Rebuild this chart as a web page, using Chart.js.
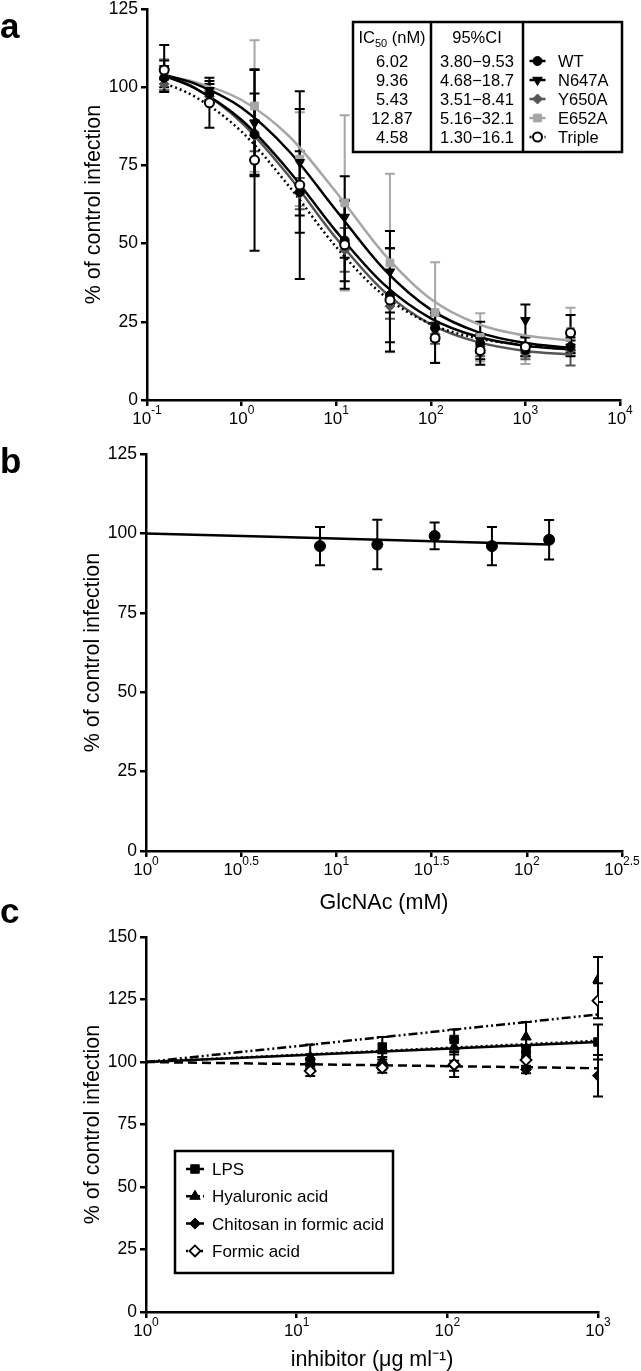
<!DOCTYPE html>
<html>
<head>
<meta charset="utf-8">
<script src="https://cdn.jsdelivr.net/npm/chart.js@4.4.1/dist/chart.umd.min.js"></script>
<style>
html, body { margin: 0; padding: 0; background: #fff; }
#wrap { position: relative; width: 641px; height: 1371px; overflow: hidden; }
canvas { position: absolute; left: 0; }
</style>
</head>
<body>
<div id="wrap">
  <canvas id="chartA" width="641" height="460" style="top:-20px"></canvas>
  <canvas id="chartB" width="641" height="480" style="top:434px"></canvas>
  <canvas id="chartC" width="641" height="476" style="top:895px"></canvas>
</div>
<script>
// ---- panel a: dose response, concentrations in nM
var concA = [0.152, 0.457, 1.37, 4.12, 12.3, 37.0, 111, 333, 1000, 3000];
var wtA = [103, 98, 85, 66.5, 51, 33.5, 23, 18, 16, 17];
var wtErrA = [3, 3, 13, 13, 13, 15, 4, 3, 2, 3];
var n647A = [106, 99, 88.5, 76, 58.5, 41, 24, 19, 25.5, 17];
var n647ErrA = [7.5, 3, 17, 17, 13, 13, 4, 6, 5, 2];
var y650A = [101, 97, 84.5, 66, 48, 30, 21, 17, 15, 16];
var y650ErrA = [2, 2, 5, 5, 7, 4, 3, 3, 2, 5];
var e652A = [104, 98, 94, 77, 63, 43.8, 28, 20, 16, 22];
var e652ErrA = [5, 3, 21, 15, 28, 28.5, 16, 7.7, 4.5, 7.5];
var tripleA = [105.5, 95, 76.7, 68.7, 49.6, 32, 19.8, 15.8, 17, 21.5];
var tripleErrA = [3, 8, 29, 30, 14, 16.5, 8, 4.5, 3, 5.7];

// fitted curves
var curveXA = [0.141, 0.316, 1, 3.16, 10, 31.6, 100, 316, 1000, 3020];
var wtFitA = [104.0, 99.8, 89.5, 73.3, 53.9, 37.1, 26.1, 20.2, 17.3, 16.1];
var n647FitA = [104.2, 101.2, 93.4, 79.6, 60.6, 42.0, 28.9, 21.7, 18.2, 16.7];
var y650FitA = [104.4, 99.9, 88.7, 71.6, 51.7, 34.9, 24.2, 18.5, 15.7, 14.5];
var e652FitA = [103.7, 101.7, 95.9, 84.4, 66.4, 46.9, 32.3, 24.3, 20.6, 19.1];
var tripleFitA = [101.7, 97.1, 85.8, 68.4, 48.9, 33.5, 24.3, 19.7, 17.6, 16.7];

var namesA = ["WT", "N647A", "Y650A", "E652A", "Triple"];
var ic50A = ["6.02", "9.36", "5.43", "12.87", "4.58"];
var ci95A = ["3.80\u22129.53", "4.68\u221218.7", "3.51\u22128.41", "5.16\u221232.1", "1.30\u221216.1"];
var xTicksA = [0.1, 1, 10, 100, 1000, 10000];
var xExpA = ["-1", "0", "1", "2", "3", "4"];

// ---- panel b: GlcNAc (mM)
var concB = [8.2, 16.4, 32.8, 65.6, 131];
var glcB = [96, 96.5, 99.2, 96, 98];
var glcErrB = [6, 7.8, 4.2, 6, 6.2];
var fitXB = [1, 131];
var glcFitB = [100, 96.5];
var xTicksB = [1, 3.1623, 10, 31.623, 100, 316.23];
var xExpB = ["0", "0.5", "1", "1.5", "2", "2.5"];

// ---- panel c: inhibitor (ug/ml)
var concC = [12.3, 37, 111, 333, 1000];
var lpsC = [100, 106, 109, 104, 108];
var lpsErrC = [3, 4, 4, 2, 7];
var hyaC = [102, 100.5, 106, 110, 133];
var hyaErrC = [5, 3, 3, 6, 9];
var chiC = [99.5, 99, 98.5, 97, 94.5];
var chiErrC = [2, 2, 2, 1.5, 8.3];
var forC = [96.4, 97.7, 99, 100.8, 124.5];
var forErrC = [2, 2, 5, 3, 7];
var fitXC = [1, 1000];
var lpsFitC = [100, 108];
var hyaFitC = [100, 119];
var chiFitC = [100, 97.5];
var forFitC = [100, 108.5];
var namesC = ["LPS", "Hyaluronic acid", "Chitosan in formic acid", "Formic acid"];
var xTicksC = [1, 10, 100, 1000];
var xExpC = ["0", "1", "2", "3"];

var FONT = "'Liberation Sans', Arial, Helvetica, sans-serif";
Chart.defaults.font.family = FONT;
Chart.defaults.color = "#000";

function pts(xs, ys) {
  return xs.map(function (x, i) { return { x: x, y: ys[i] }; });
}

function markers(label, xs, ys, errs, st) {
  return {
    label: label, data: pts(xs, ys), errs: errs, errColor: st.err,
    showLine: false, pointStyle: st.shape, rotation: st.rot || 0,
    pointRadius: st.r, backgroundColor: st.fill, borderColor: st.stroke,
    borderWidth: st.bw, legendLine: st.line, legendDash: st.dash || []
  };
}

function curve(xs, ys, st) {
  return {
    data: pts(xs, ys), showLine: true, pointRadius: 0, borderColor: st.line,
    borderWidth: 2.5, borderDash: st.dash || [], cubicInterpolationMode: "monotone", fill: false
  };
}

function drawPower(ctx, cx, baseY, exp) {
  ctx.font = "17px " + FONT;
  var w1 = ctx.measureText("10").width;
  ctx.font = "12px " + FONT;
  var w2 = ctx.measureText(exp).width;
  var x0 = cx - (w1 + w2) / 2;
  ctx.font = "17px " + FONT;
  ctx.fillText("10", x0, baseY);
  ctx.font = "12px " + FONT;
  ctx.fillText(exp, x0 + w1, baseY - 10);
}

function legendSample(ctx, ds, cx, cy, half) {
  ctx.save();
  ctx.strokeStyle = ds.legendLine;
  ctx.lineWidth = 2.5;
  ctx.setLineDash(ds.legendDash);
  ctx.beginPath();
  ctx.moveTo(cx - half, cy);
  ctx.lineTo(cx + half, cy);
  ctx.stroke();
  ctx.setLineDash([]);
  ctx.fillStyle = ds.backgroundColor;
  ctx.strokeStyle = ds.borderColor;
  ctx.lineWidth = ds.borderWidth;
  Chart.helpers.drawPoint(ctx, {
    pointStyle: ds.pointStyle, radius: ds.pointRadius, rotation: ds.rotation,
    borderWidth: ds.borderWidth
  }, cx, cy);
  ctx.restore();
}

function drawTableA(chart, top) {
  var ctx = chart.ctx;
  var Y = function (v) { return v - top; };
  ctx.strokeStyle = "#000";
  ctx.lineWidth = 2.5;
  ctx.strokeRect(353, Y(22), 269, 130);
  ctx.beginPath();
  ctx.moveTo(431, Y(22)); ctx.lineTo(431, Y(152));
  ctx.moveTo(523, Y(22)); ctx.lineTo(523, Y(152));
  ctx.stroke();

  ctx.fillStyle = "#000";
  ctx.textAlign = "left";
  // header IC50 (nM)
  ctx.font = "16.5px " + FONT;
  var wIC = ctx.measureText("IC").width;
  var wNM = ctx.measureText(" (nM)").width;
  ctx.font = "11px " + FONT;
  var w50 = ctx.measureText("50").width;
  var x0 = 392 - (wIC + w50 + wNM) / 2;
  ctx.font = "16.5px " + FONT;
  ctx.fillText("IC", x0, Y(43));
  ctx.fillText(" (nM)", x0 + wIC + w50, Y(43));
  ctx.font = "11px " + FONT;
  ctx.fillText("50", x0 + wIC, Y(47));

  ctx.font = "16.5px " + FONT;
  ctx.textAlign = "center";
  ctx.fillText("95%CI", 477, Y(43));
  var markerSets = chart.data.datasets.filter(function (d) { return d.errs; });
  for (var i = 0; i < namesA.length; i++) {
    var by = 67 + 19 * i;
    ctx.textAlign = "center";
    ctx.fillStyle = "#000";
    ctx.fillText(ic50A[i], 392, Y(by));
    ctx.fillText(ci95A[i], 477, Y(by));
    ctx.textAlign = "left";
    ctx.fillText(namesA[i], 558, Y(by));
    var ds = markerSets.filter(function (d) { return d.label === namesA[i]; })[0];
    legendSample(ctx, ds, 537.5, Y(by - 6), 8);
  }
}

function drawLegendC(chart, top) {
  var ctx = chart.ctx;
  var Y = function (v) { return v - top; };
  ctx.strokeStyle = "#000";
  ctx.lineWidth = 2.5;
  ctx.strokeRect(175, Y(1151), 218, 122);
  ctx.font = "17px " + FONT;
  ctx.textAlign = "left";
  for (var i = 0; i < namesC.length; i++) {
    var by = 1175 + 27.3 * i;
    ctx.fillStyle = "#000";
    ctx.fillText(namesC[i], 212, Y(by));
    var ds = chart.data.datasets.filter(function (d) { return d.label === namesC[i]; })[0];
    legendSample(ctx, ds, 195, Y(by - 6), 9);
  }
}

var figPlugin = {
  id: "fig",
  beforeDatasetsDraw: function (chart) {
    var ctx = chart.ctx, xs = chart.scales.x, ys = chart.scales.y;
    ctx.save();
    chart.data.datasets.slice().reverse().forEach(function (ds) {
      if (!ds.errs) return;
      ctx.strokeStyle = ds.errColor;
      ctx.lineWidth = 2;
      ds.data.forEach(function (p, i) {
        var px = xs.getPixelForValue(p.x);
        var t = ys.getPixelForValue(p.y + ds.errs[i]);
        var b = ys.getPixelForValue(p.y - ds.errs[i]);
        ctx.beginPath();
        ctx.moveTo(px, t); ctx.lineTo(px, b);
        ctx.moveTo(px - 5, t); ctx.lineTo(px + 5, t);
        ctx.moveTo(px - 5, b); ctx.lineTo(px + 5, b);
        ctx.stroke();
      });
    });
    ctx.restore();
  },
  afterDraw: function (chart, args, o) {
    var ctx = chart.ctx, xs = chart.scales.x, area = chart.chartArea;
    ctx.save();
    ctx.fillStyle = "#000";
    ctx.textAlign = "left";
    ctx.textBaseline = "alphabetic";
    o.tickVals.forEach(function (v, i) {
      drawPower(ctx, xs.getPixelForValue(v), area.bottom + 24, o.tickExps[i]);
    });
    ctx.font = "bold 35px " + FONT;
    ctx.fillText(o.letter, 0, o.letterY - o.top);
    if (o.table) drawTableA(chart, o.top);
    if (o.legendBox) drawLegendC(chart, o.top);
    ctx.restore();
  }
};

function xScale(min, max, ticks, title, height) {
  return {
    type: "logarithmic", min: min, max: max,
    afterBuildTicks: function (s) { s.ticks = ticks.map(function (v) { return { value: v }; }); },
    afterFit: function (s) { s.height = height; },
    ticks: { display: false },
    grid: { drawOnChartArea: false, drawTicks: true, tickLength: 6, color: "#000", lineWidth: 2.5 },
    border: { display: true, color: "#000", width: 2.5 },
    title: title ? { display: true, text: title, color: "#000", font: { size: 21.5, lineHeight: 1 }, padding: { top: 0, bottom: 0 } } : { display: false }
  };
}

function yScale(max, width) {
  return {
    type: "linear", min: 0, max: max,
    afterFit: function (s) { s.width = width; },
    ticks: { stepSize: 25, color: "#000", font: { size: 17.5 }, padding: 3 },
    grid: { drawOnChartArea: false, drawTicks: true, tickLength: 6, color: "#000", lineWidth: 2.5 },
    border: { display: true, color: "#000", width: 2.5 },
    title: { display: true, text: "% of control infection", color: "#000", font: { size: 21.5, lineHeight: 1 }, padding: { top: width - 63.5, bottom: 0 } }
  };
}

var stWT = { shape: "circle", r: 4.5, fill: "#000", stroke: "#000", bw: 1, err: "#000", line: "#000" };
var stN = { shape: "triangle", rot: 180, r: 5.5, fill: "#000", stroke: "#000", bw: 1, err: "#000", line: "#000" };
var stY = { shape: "rectRot", r: 5, fill: "#555", stroke: "#555", bw: 1, err: "#555", line: "#555" };
var stE = { shape: "rect", r: 5.5, fill: "#a6a6a6", stroke: "#a6a6a6", bw: 1, err: "#a6a6a6", line: "#a6a6a6" };
var stT = { shape: "circle", r: 4.5, fill: "#fff", stroke: "#000", bw: 2, err: "#000", line: "#000", dash: [2, 3] };

new Chart(document.getElementById("chartA"), {
  type: "scatter",
  data: {
    datasets: [
      markers("Triple", concA, tripleA, tripleErrA, stT),
      markers("WT", concA, wtA, wtErrA, stWT),
      markers("N647A", concA, n647A, n647ErrA, stN),
      markers("Y650A", concA, y650A, y650ErrA, stY),
      markers("E652A", concA, e652A, e652ErrA, stE),
      curve(curveXA, tripleFitA, stT),
      curve(curveXA, wtFitA, stWT),
      curve(curveXA, n647FitA, stN),
      curve(curveXA, y650FitA, stY),
      curve(curveXA, e652FitA, stE)
    ]
  },
  options: {
    responsive: false, animation: false, events: [],
    layout: { padding: { top: 29, right: 21, bottom: 0, left: 0 } },
    scales: { x: xScale(0.1, 10000, xTicksA, null, 40), y: yScale(125, 147) },
    plugins: {
      legend: { display: false }, tooltip: { enabled: false },
      fig: { tickVals: xTicksA, tickExps: xExpA, letter: "a", letterY: 38, top: -20, table: true }
    }
  },
  plugins: [figPlugin]
});

var stB = { shape: "circle", r: 5.5, fill: "#000", stroke: "#000", bw: 1, err: "#000", line: "#000" };
new Chart(document.getElementById("chartB"), {
  type: "scatter",
  data: {
    datasets: [
      markers("GlcNAc", concB, glcB, glcErrB, stB),
      curve(fitXB, glcFitB, stB)
    ]
  },
  options: {
    responsive: false, animation: false, events: [],
    layout: { padding: { top: 20, right: 19, bottom: 0, left: 0 } },
    scales: { x: xScale(1, 316.23, xTicksB, "GlcNAc (mM)", 63), y: yScale(125, 146) },
    plugins: {
      legend: { display: false }, tooltip: { enabled: false },
      fig: { tickVals: xTicksB, tickExps: xExpB, letter: "b", letterY: 473, top: 434 }
    }
  },
  plugins: [figPlugin]
});

var stLPS = { shape: "rect", r: 6, fill: "#000", stroke: "#000", bw: 1, err: "#000", line: "#000" };
var stHya = { shape: "triangle", r: 6, fill: "#000", stroke: "#000", bw: 1, err: "#000", line: "#000", dash: [9, 3, 2, 3, 2, 3] };
var stChi = { shape: "rectRot", r: 5.5, fill: "#000", stroke: "#000", bw: 1, err: "#000", line: "#000", dash: [9, 5] };
var stFor = { shape: "rectRot", r: 5.5, fill: "#fff", stroke: "#000", bw: 1.8, err: "#000", line: "#000", dash: [2, 3] };

new Chart(document.getElementById("chartC"), {
  type: "scatter",
  data: {
    datasets: [
      markers("Formic acid", concC, forC, forErrC, stFor),
      markers("Chitosan in formic acid", concC, chiC, chiErrC, stChi),
      markers("Hyaluronic acid", concC, hyaC, hyaErrC, stHya),
      markers("LPS", concC, lpsC, lpsErrC, stLPS),
      curve(fitXC, forFitC, stFor),
      curve(fitXC, chiFitC, stChi),
      curve(fitXC, hyaFitC, stHya),
      curve(fitXC, lpsFitC, stLPS)
    ]
  },
  options: {
    responsive: false, animation: false, events: [],
    layout: { padding: { top: 42, right: 43, bottom: 0, left: 0 } },
    scales: { x: xScale(1, 1000, xTicksC, "inhibitor (\u03bcg ml\u207b\u00b9)", 59), y: yScale(150, 146) },
    plugins: {
      legend: { display: false }, tooltip: { enabled: false },
      fig: { tickVals: xTicksC, tickExps: xExpC, letter: "c", letterY: 923, top: 895, legendBox: true }
    }
  },
  plugins: [figPlugin]
});
</script>
</body>
</html>
